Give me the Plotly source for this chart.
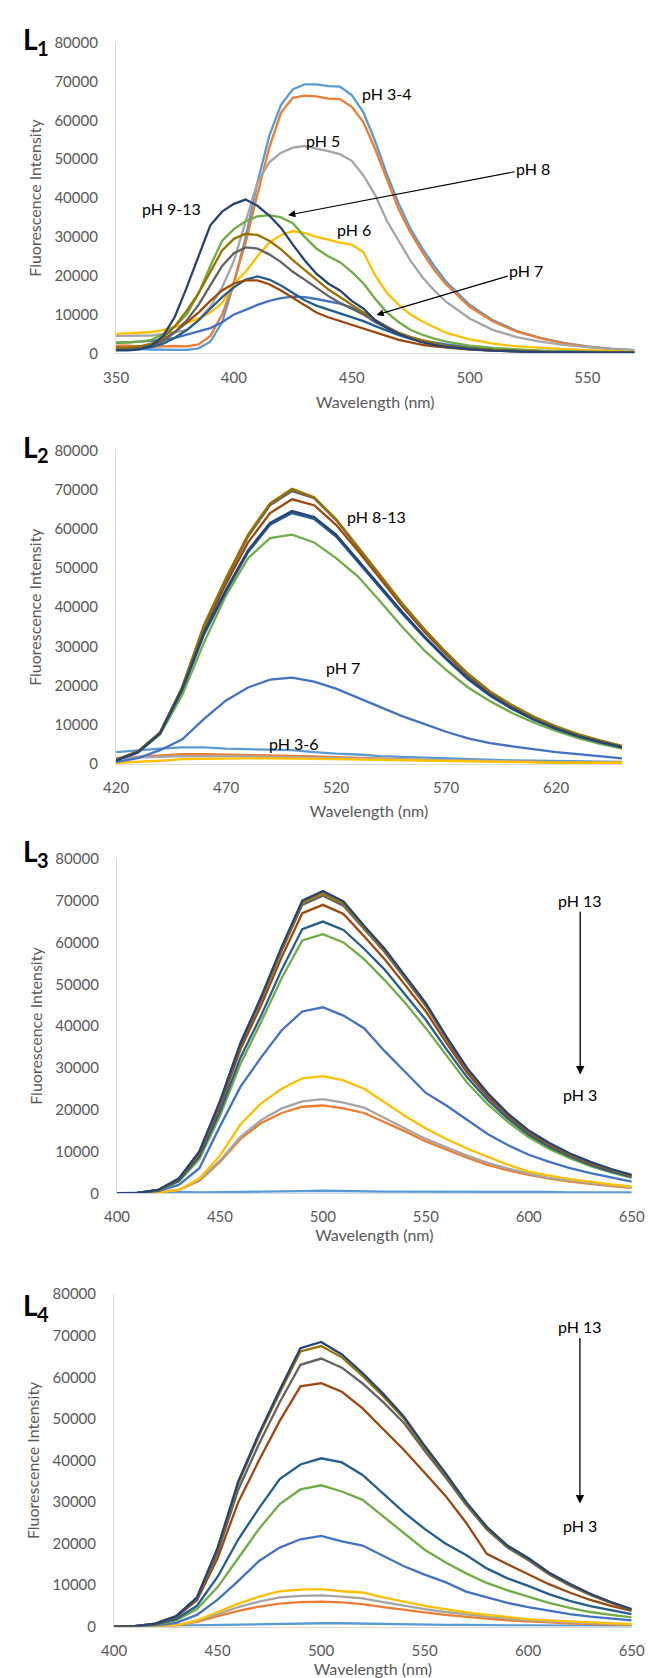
import plotly.graph_objects as go

W, H = 653, 1678
FONT = "Lato, Carlito, Calibri, sans-serif"
GRAY_TXT = "#595959"
AXIS_COL = "#d9d9d9"

colors = {
    "pH 3": "#5B9BD5", "pH 4": "#ED7D31", "pH 5": "#A5A5A5", "pH 6": "#FFC000",
    "pH 7": "#4472C4", "pH 8": "#70AD47", "pH 9": "#255E91", "pH 10": "#9E480E",
    "pH 11": "#636363", "pH 12": "#997300", "pH 13": "#264478",
}

# ---------------- L1 ----------------
x1 = [350, 355, 360, 365, 370, 375, 380, 385, 390, 395, 400, 405, 410, 415, 420, 425, 430, 435,
      440, 445, 450, 455, 460, 465, 470, 475, 480, 485, 490, 500, 510, 520, 530, 540, 550, 560, 570]
L1 = {
    "pH 3": [1200, 1200, 1100, 1000, 900, 900, 900, 1300, 3000, 8000, 18000, 30000, 44000, 56000, 64000, 68000, 69300, 69300, 68800, 68700, 66500, 62000, 54500, 46000, 38500, 32000, 27000, 22500, 18500, 12500, 8500, 5800, 4000, 2700, 1800, 1200, 800],
    "pH 4": [2000, 2000, 1800, 1700, 1800, 1900, 1800, 2300, 4500, 10000, 18500, 28500, 41000, 53000, 62000, 65800, 66400, 66200, 65600, 65500, 63500, 59500, 52500, 44500, 37000, 31000, 26000, 21500, 17800, 12000, 8200, 5600, 3900, 2600, 1700, 1100, 700],
    "pH 5": [4500, 4500, 4500, 4600, 5000, 5500, 6000, 8600, 12000, 17000, 23800, 34000, 44000, 49200, 51700, 53000, 53400, 52700, 52100, 51300, 49600, 45800, 40700, 34000, 28900, 23800, 19600, 16200, 13300, 9000, 6000, 4200, 3000, 2200, 1600, 1100, 800],
    "pH 6": [5000, 5200, 5300, 5500, 6000, 6800, 7800, 9000, 10500, 13000, 18000, 21000, 25000, 28500, 30500, 31500, 31000, 30000, 29300, 28500, 28000, 26000, 20000, 15500, 12500, 10000, 8200, 6800, 5300, 3600, 2500, 1800, 1400, 1100, 800, 600, 400],
    "pH 7": [2700, 2800, 3000, 3200, 3500, 4000, 4800, 5600, 6500, 8000, 10000, 11200, 12500, 13500, 14200, 14600, 14500, 14000, 13400, 12800, 11800, 10500, 8500, 6800, 5200, 4200, 3300, 2800, 2300, 1600, 1100, 800, 600, 500, 400, 300, 300],
    "pH 8": [2800, 2800, 3000, 3500, 5000, 7000, 10000, 15500, 22500, 29000, 32000, 34000, 35300, 35600, 35000, 33500, 30000, 27000, 25000, 23500, 21000, 18000, 14000, 10500, 8000, 6000, 4800, 3800, 3000, 2000, 1400, 1000, 700, 500, 400, 300, 200],
    "pH 9": [1000, 1000, 1200, 1600, 2500, 4000, 6000, 8500, 11500, 14500, 17000, 19000, 19800, 19000, 17500, 15500, 13700, 12300, 11300, 10300, 9300, 8300, 7000, 5800, 4700, 3800, 3000, 2400, 2000, 1300, 900, 600, 400, 300, 300, 200, 200],
    "pH 10": [1500, 1500, 1700, 2200, 3500, 5500, 8000, 10500, 13500, 16200, 18000, 18800, 18800, 17800, 16200, 14300, 12300, 10500, 9300, 8300, 7300, 6300, 5300, 4300, 3500, 2800, 2200, 1800, 1500, 1000, 700, 500, 400, 300, 200, 200, 200],
    "pH 11": [1200, 1200, 1500, 2000, 3200, 5500, 8500, 12500, 17500, 22500, 25800, 27300, 27000, 25500, 23500, 21000, 19000, 16800, 14800, 13000, 11500, 10000, 8000, 6500, 5000, 3900, 3000, 2300, 1800, 1100, 700, 500, 300, 300, 200, 200, 200],
    "pH 12": [1500, 1500, 1800, 2500, 4000, 7000, 11000, 15500, 21000, 26500, 29500, 30800, 30500, 29000, 26800, 24000, 21500, 19000, 16500, 14500, 12500, 10500, 8500, 6800, 5300, 4200, 3300, 2600, 2000, 1300, 900, 600, 400, 300, 200, 200, 200],
    "pH 13": [800, 800, 1000, 2000, 4500, 9500, 17000, 25000, 33000, 36500, 38500, 39600, 38000, 35500, 32300, 28000, 24000, 20500, 18000, 16200, 13500, 11500, 8500, 6500, 5000, 3800, 2800, 2200, 1700, 1100, 700, 500, 300, 300, 200, 200, 200],
}

# ---------------- L2 ----------------
x2 = [420, 430, 440, 450, 460, 470, 480, 490, 500, 510, 520, 530, 540, 550, 560, 570, 580, 590, 600, 610, 620, 630, 640, 650]
L2 = {
    "pH 3": [3000, 3500, 3900, 4200, 4200, 3900, 3800, 3600, 3500, 3000, 2600, 2400, 2000, 1800, 1600, 1400, 1200, 1000, 900, 800, 700, 600, 500, 500],
    "pH 4": [1500, 1800, 2200, 2500, 2500, 2400, 2300, 2200, 2100, 1900, 1700, 1500, 1300, 1100, 1000, 900, 800, 700, 600, 500, 500, 400, 400, 400],
    "pH 5": [1500, 1600, 1800, 2000, 2000, 1900, 1900, 1800, 1700, 1500, 1400, 1300, 1100, 1000, 900, 800, 700, 600, 500, 500, 400, 400, 300, 300],
    "pH 6": [300, 500, 800, 1200, 1300, 1400, 1400, 1400, 1400, 1300, 1200, 1100, 1000, 900, 800, 700, 600, 500, 400, 400, 300, 300, 300, 300],
    "pH 7": [500, 1500, 3500, 6200, 11500, 16200, 19500, 21500, 22000, 21000, 19200, 16800, 14500, 12200, 10200, 8200, 6500, 5300, 4500, 3800, 3000, 2500, 2000, 1400],
    "pH 8": [900, 2900, 7500, 17500, 31000, 43000, 52500, 57600, 58500, 56500, 52500, 47800, 41500, 35000, 29000, 24000, 19500, 16000, 13000, 10500, 8400, 6600, 5100, 3900],
    "pH 9": [900, 3000, 7800, 18800, 33000, 44000, 54000, 61000, 64000, 62500, 58000, 51500, 45000, 38400, 32300, 26700, 21600, 17400, 14000, 11200, 8900, 7000, 5500, 4200],
    "pH 10": [1000, 3200, 8000, 19300, 34500, 46000, 56500, 64000, 67500, 66000, 61000, 54300, 47300, 40200, 33800, 27900, 22500, 18100, 14600, 11600, 9300, 7300, 5700, 4400],
    "pH 11": [1000, 3200, 8000, 19500, 35000, 47000, 58000, 66000, 69600, 67800, 62200, 55200, 48000, 40800, 34300, 28300, 22800, 18300, 14800, 11800, 9400, 7400, 5800, 4500],
    "pH 12": [1000, 3200, 8000, 19500, 35500, 47500, 58500, 66500, 70200, 68000, 62500, 55500, 48200, 41000, 34500, 28500, 23000, 18500, 15000, 12000, 9600, 7600, 6000, 4600],
    "pH 13": [900, 3000, 7800, 19000, 33500, 44500, 54500, 61500, 64500, 63000, 58500, 52000, 45500, 38800, 32600, 27000, 21800, 17600, 14200, 11300, 9000, 7100, 5600, 4300],
}

# ---------------- L3 ----------------
x3 = [400, 410, 420, 430, 440, 450, 460, 470, 480, 490, 500, 510, 520, 530, 540, 550, 560, 570, 580, 590, 600, 610, 620, 630, 640, 650]
L3 = {
    "pH 3": [0, 100, 200, 300, 200, 200, 300, 400, 400, 500, 600, 500, 400, 400, 400, 400, 400, 300, 300, 300, 300, 300, 200, 200, 300, 200],
    "pH 4": [0, 0, 200, 800, 3000, 7500, 13000, 16800, 19200, 20700, 21000, 20300, 19200, 17000, 14800, 12400, 10400, 8500, 6800, 5500, 4400, 3500, 2800, 2200, 1700, 1300],
    "pH 5": [0, 0, 200, 800, 3200, 7800, 13500, 17500, 20300, 22000, 22500, 21700, 20500, 18000, 15500, 13000, 11000, 9000, 7300, 5900, 4700, 3700, 3000, 2400, 1900, 1500],
    "pH 6": [0, 0, 200, 800, 3500, 9000, 16500, 21500, 25000, 27500, 28000, 27000, 25000, 21700, 18500, 15500, 13000, 10700, 8700, 6800, 5200, 4200, 3400, 2700, 2100, 1600],
    "pH 7": [0, 100, 500, 2000, 6000, 16000, 25500, 32500, 39000, 43500, 44500, 42500, 39500, 34000, 29000, 24000, 21000, 17500, 14200, 11500, 9200, 7500, 6000, 4800, 3800, 2800],
    "pH 8": [0, 100, 600, 2800, 8200, 18500, 31000, 41000, 51500, 60500, 62000, 60000, 56000, 51000, 45500, 39500, 33000, 26500, 21300, 17000, 13400, 10600, 8400, 6500, 5000, 3700],
    "pH 9": [0, 100, 700, 3000, 8800, 19500, 32500, 42500, 53500, 63200, 65000, 63000, 58500, 53500, 47500, 41500, 34500, 27800, 22300, 17800, 14000, 11100, 8800, 6800, 5200, 3900],
    "pH 10": [0, 100, 700, 3200, 9400, 20800, 34500, 45000, 56500, 67000, 69000, 66800, 61500, 56000, 49800, 43500, 36000, 28900, 23100, 18400, 14500, 11500, 9100, 7100, 5500, 4100],
    "pH 11": [0, 100, 800, 3400, 9800, 21500, 35500, 46300, 58000, 69000, 71200, 68800, 63200, 57700, 51300, 44800, 37000, 29600, 23700, 18800, 14800, 11800, 9300, 7300, 5600, 4200],
    "pH 12": [0, 100, 800, 3450, 9900, 21800, 35800, 46700, 58500, 69500, 71800, 69300, 63600, 58100, 51700, 45200, 37300, 29800, 23900, 18900, 14900, 11900, 9400, 7400, 5700, 4300],
    "pH 13": [0, 100, 800, 3500, 10000, 22000, 36000, 47000, 59000, 70000, 72300, 69800, 64000, 58500, 52000, 45500, 37500, 30000, 24000, 19000, 15000, 12000, 9500, 7500, 5800, 4400],
}

# ---------------- L4 ----------------
x4 = [400, 410, 420, 430, 440, 450, 460, 470, 480, 490, 500, 510, 520, 530, 540, 550, 560, 570, 580, 590, 600, 610, 620, 630, 640, 650]
L4 = {
    "pH 3": [0, 0, 100, 200, 300, 400, 500, 600, 700, 800, 800, 800, 700, 600, 500, 500, 400, 400, 300, 300, 300, 200, 200, 200, 100, 100],
    "pH 4": [0, 0, 0, 300, 1100, 2500, 3800, 4800, 5500, 5900, 6000, 5800, 5400, 4700, 4000, 3400, 2800, 2300, 1900, 1500, 1200, 1000, 800, 600, 500, 400],
    "pH 5": [0, 0, 0, 300, 1300, 3000, 4700, 6000, 7000, 7400, 7500, 7200, 6800, 5900, 5000, 4200, 3500, 2900, 2400, 1900, 1500, 1200, 1000, 800, 700, 500],
    "pH 6": [0, 0, 0, 300, 1500, 3500, 5500, 7200, 8500, 8900, 9000, 8500, 8200, 7000, 6000, 5000, 4200, 3400, 2800, 2300, 1800, 1500, 1300, 1000, 800, 600],
    "pH 7": [0, 0, 300, 900, 2800, 6500, 11000, 15800, 19000, 21000, 21800, 20500, 19500, 17000, 14500, 12500, 10700, 8400, 7000, 5700, 4700, 3800, 3000, 2400, 1900, 1500],
    "pH 8": [0, 0, 400, 1500, 4200, 9500, 16500, 23500, 29500, 33000, 34000, 32500, 30500, 26500, 22500, 18500, 15500, 12800, 10500, 8700, 7200, 5700, 4500, 3500, 2800, 2200],
    "pH 9": [0, 100, 500, 1800, 5000, 12000, 21000, 28500, 35500, 39000, 40500, 39500, 36500, 32000, 27500, 23500, 20000, 17200, 14000, 11600, 9800, 7800, 6200, 4900, 3900, 3000],
    "pH 10": [0, 100, 600, 2300, 6300, 16500, 30000, 40000, 49500, 57800, 58600, 56500, 52500, 47500, 42500, 37000, 31500, 25000, 17500, 15000, 12500, 10200, 8200, 6400, 5000, 3800],
    "pH 11": [0, 100, 700, 2400, 6600, 17800, 33000, 44000, 54000, 63000, 64500, 62300, 58500, 54000, 49000, 42300, 36000, 29300, 23400, 19000, 16000, 12600, 9900, 7600, 5700, 4000],
    "pH 12": [0, 100, 700, 2500, 6900, 18700, 34500, 46000, 56300, 66200, 67500, 64800, 60300, 55400, 50000, 43000, 36600, 29700, 23700, 19300, 16300, 12800, 10100, 7700, 5800, 4100],
    "pH 13": [0, 100, 700, 2500, 7000, 19000, 35000, 46500, 57000, 67000, 68500, 65500, 61000, 56000, 50500, 43500, 37000, 30000, 24000, 19500, 16500, 13000, 10300, 7900, 5900, 4200],
}

x_ranges = [[350, 570], [420, 650], [400, 650], [400, 650]]
x_ticks = [[350, 400, 450, 500, 550], [420, 470, 520, 570, 620],
           [400, 450, 500, 550, 600, 650], [400, 450, 500, 550, 600, 650]]
y_ticks = [0, 10000, 20000, 30000, 40000, 50000, 60000, 70000, 80000]
panel_labels = ["1", "2", "3", "4"]
x_title = "Wavelength (nm)"
y_title = "Fluorescence Intensity"

# pixel geometry of the four plot areas: (left, right, top, bottom)
boxes = [(99, 639, 25, 339), (99, 626, 437, 754), (100, 636, 850, 1188), (97, 636, 1290, 1626)]
x_title_standoff = [12, 10, 3, 0]

fig = go.Figure()
datasets = [(x1, L1), (x2, L2), (x3, L3), (x4, L4)]
for i, (xs, d) in enumerate(datasets):
    sfx = "" if i == 0 else str(i + 1)
    for name, vals in d.items():
        fig.add_trace(go.Scatter(x=xs, y=vals, mode="lines", name=name,
                                 line=dict(color=colors[name], width=2.3),
                                 xaxis="x" + sfx, yaxis="y" + sfx, showlegend=False))

layout = dict(width=W, height=H, margin=dict(l=0, r=0, t=0, b=0),
              paper_bgcolor="white", plot_bgcolor="white",
              font=dict(family=FONT, color=GRAY_TXT, size=15))
annotations = []
for i, (l, r, t, b) in enumerate(boxes):
    sfx = "" if i == 0 else str(i + 1)
    layout["xaxis" + sfx] = dict(domain=[l / W, r / W], anchor="y" + sfx, range=x_ranges[i],
                                 tickvals=x_ticks[i], showgrid=False, zeroline=False,
                                 showline=True, linecolor=AXIS_COL, linewidth=1.3,
                                 ticks="", tickfont=dict(size=15, color=GRAY_TXT),
                                 ticklabelstandoff=10,
                                 title=dict(text=x_title, font=dict(size=16, color=GRAY_TXT),
                                            standoff=x_title_standoff[i]))
    layout["yaxis" + sfx] = dict(domain=[1 - b / H, 1 - t / H], anchor="x" + sfx, range=[0, 80000],
                                 tickvals=y_ticks, tickformat="d", showgrid=False, zeroline=False,
                                 showline=True, linecolor=AXIS_COL, linewidth=1.3,
                                 ticks="", tickfont=dict(size=15, color=GRAY_TXT),
                                 ticklabelstandoff=14,
                                 title=dict(text=y_title, font=dict(size=16, color=GRAY_TXT),
                                            standoff=8))
    lab_top = [2, 414, 823, 1282][i]
    annotations.append(dict(text="<b>L</b>", xref="paper", yref="paper",
                            x=0, y=1 - lab_top / H, xanchor="left", yanchor="top",
                            showarrow=False, font=dict(size=28, color="black")))
    annotations.append(dict(text="<b>" + panel_labels[i] + "</b>", xref="paper", yref="paper",
                            x=15 / W, y=1 - (lab_top + 14) / H, xanchor="left", yanchor="top",
                            showarrow=False, font=dict(size=20, color="black")))

BLK = dict(size=16, color="black")
ARW = dict(showarrow=True, arrowhead=2, arrowsize=1.3, arrowcolor="black", font=BLK)
# L1 labels
for txt, xv, yv in [("pH 3-4", 465, 67000), ("pH 5", 438, 54900),
                    ("pH 9-13", 373.5, 37300), ("pH 6", 451, 31800)]:
    annotations.append(dict(text=txt, x=xv, y=yv, xref="x", yref="y", showarrow=False, font=BLK))
annotations.append(dict(text="pH 8", x=423, y=35600, ax=527, ay=47700, xref="x", yref="y",
                        axref="x", ayref="y", arrowwidth=1.1, **ARW))
annotations.append(dict(text="pH 7", x=460.5, y=9900, ax=524, ay=21300, xref="x", yref="y",
                        axref="x", ayref="y", arrowwidth=1.1, **ARW))
# L2 labels
for txt, xv, yv in [("pH 8-13", 538.5, 63200), ("pH 7", 523, 24500), ("pH 3-6", 501, 5300)]:
    annotations.append(dict(text=txt, x=xv, y=yv, xref="x2", yref="y2", showarrow=False, font=BLK))
# L3 / L4 labels
for sfx, top, a1, bot in [("3", 70000, 28400, 23600), ("4", 72100, 29600, 24400)]:
    annotations.append(dict(text="pH 13", x=625, y=a1, ax=625, ay=top, xref="x" + sfx, yref="y" + sfx,
                            axref="x" + sfx, ayref="y" + sfx, arrowwidth=1.3, **ARW))
    annotations.append(dict(text="pH 3", x=625, y=bot, xref="x" + sfx, yref="y" + sfx, showarrow=False, font=BLK))

layout["annotations"] = annotations
fig.update_layout(**layout)
fig.write_html("out.html")
